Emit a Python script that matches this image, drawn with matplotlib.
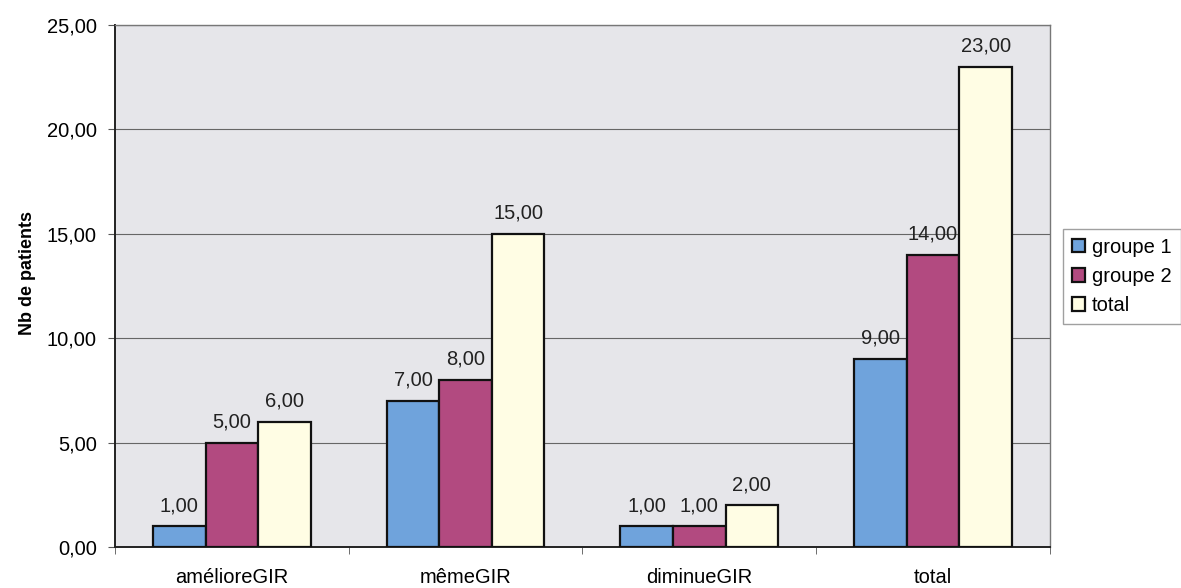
import matplotlib
matplotlib.use("Agg")
import matplotlib.pyplot as plt
import numpy as np

plt.rcParams['font.family'] = ['Liberation Sans', 'DejaVu Sans']

categories = ["amélioreGIR", "mêmeGIR", "diminueGIR", "total"]
groupe1 = [1, 7, 1, 9]
groupe2 = [5, 8, 1, 14]
total = [6, 15, 2, 23]
series_names = ["groupe 1", "groupe 2", "total"]
colors = ["#6fa3dc", "#b24a80", "#fffde4"]

fig = plt.figure(figsize=(11.81, 5.88), dpi=100)
fig.patch.set_facecolor("white")
ax = fig.add_axes([0.0974, 0.0697, 0.7916, 0.8878])
ax.set_facecolor("#e6e6ea")

x = np.arange(len(categories))
w = 0.225
bars = []
for i, (vals, name, c) in enumerate(zip([groupe1, groupe2, total], series_names, colors)):
    b = ax.bar(x + (i - 1) * w, vals, w, color=c, edgecolor="#111111", linewidth=1.6,
               label=name, zorder=3)
    bars.append(b)
    for xi, v in zip(x + (i - 1) * w, vals):
        ax.annotate(f"{v:.2f}".replace(".", ","), (xi, v), xytext=(0, 8),
                    textcoords="offset points", ha="center", va="bottom",
                    fontsize=14.5, color="#222222", zorder=4)

ax.set_xlim(-0.5, len(categories) - 0.5)
ax.set_ylim(0, 25)
ax.set_yticks(np.arange(0, 26, 5))
ax.set_yticklabels([f"{t:.2f}".replace(".", ",") for t in np.arange(0, 26, 5)], fontsize=14.5)
ax.yaxis.grid(True, color="#666666", linewidth=0.8, zorder=0)
ax.set_axisbelow(True)

ax.set_xticks(x)
ax.set_xticklabels(categories, fontsize=14.5)
ax.tick_params(axis="x", length=0, pad=15)
ax.set_xticks(np.arange(-0.5, len(categories)), minor=True)
ax.tick_params(axis="x", which="minor", length=5, color="#555555")
ax.tick_params(axis="y", length=5, color="#555555", pad=8)

for side in ["left", "bottom"]:
    ax.spines[side].set_color("#222222")
    ax.spines[side].set_linewidth(1.4)
for side in ["top", "right"]:
    ax.spines[side].set_color("#777777")
    ax.spines[side].set_linewidth(1.0)

ax.set_ylabel("Nb de patients", fontsize=13, fontweight="bold")
ax.yaxis.set_label_coords(-0.085, 0.525)

leg = fig.legend(handles=bars, labels=series_names, loc="upper left",
                 bbox_to_anchor=(0.900, 0.611), fontsize=14.5, frameon=True,
                 handlelength=0.65, handleheight=0.65, handletextpad=0.35,
                 labelspacing=0.5, borderpad=0.45, borderaxespad=0.0,
                 fancybox=False)
leg.get_frame().set_edgecolor("#888888")
leg.get_frame().set_linewidth(1.0)

fig.savefig("out.png", dpi=100, facecolor="white")
